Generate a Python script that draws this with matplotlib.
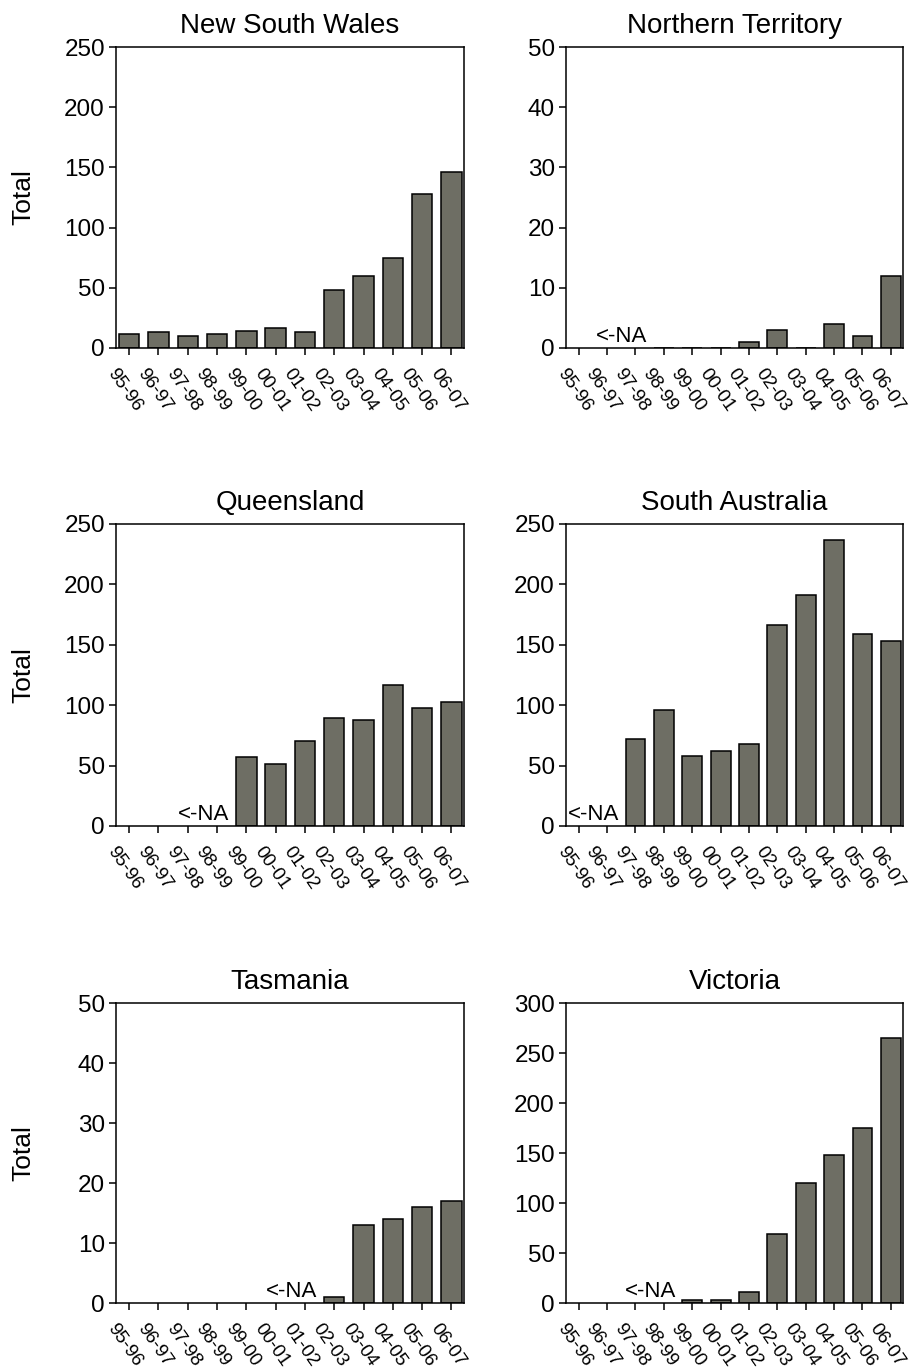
import numpy as np
import matplotlib
matplotlib.use('Agg')
import matplotlib.pyplot as plt
import matplotlib.transforms as mtransforms

plt.rcParams['font.family'] = ['Liberation Sans', 'DejaVu Sans']

years = ['95-96', '96-97', '97-98', '98-99', '99-00', '00-01',
         '01-02', '02-03', '03-04', '04-05', '05-06', '06-07']
nan = np.nan

nsw = [12, 13, 10, 12, 14, 17, 13, 48, 60, 75, 128, 146]
nt = [nan, nan, nan, 0, 0, 0, 1, 3, 0, 4, 2, 12]
qld = [nan, nan, nan, nan, 57, 51, 70, 89, 88, 117, 98, 103]
sa = [nan, nan, 72, 96, 58, 62, 68, 166, 191, 237, 159, 153]
tas = [nan, nan, nan, nan, nan, nan, nan, 1, 13, 14, 16, 17]
vic = [nan, nan, nan, nan, 3, 3, 11, 69, 120, 148, 175, 265]

panels = [
    ('New South Wales', nsw, 250, 50),
    ('Northern Territory', nt, 50, 10),
    ('Queensland', qld, 250, 50),
    ('South Australia', sa, 250, 50),
    ('Tasmania', tas, 50, 10),
    ('Victoria', vic, 300, 50),
]

W, H = 911, 1370
fig = plt.figure(figsize=(W / 100, H / 100), dpi=100)

col_x = [(116, 464), (566, 903)]
row_y = [(47, 348), (524, 826), (1003, 1303)]

bar_color = '#6e6e64'
x = np.arange(len(years))

for i, (name, vals, ymax, step) in enumerate(panels):
    r, c = divmod(i, 2)
    x0, x1 = col_x[c]
    y0, y1 = row_y[r]
    ax = fig.add_axes([x0 / W, 1 - y1 / H, (x1 - x0) / W, (y1 - y0) / H])
    v = np.array(vals, dtype=float)
    ok = ~np.isnan(v)
    ax.bar(x[ok], v[ok], width=0.7, color=bar_color, edgecolor='black', linewidth=1.1)
    ax.set_xlim(-0.45, 11.43)
    ax.set_ylim(0, ymax)
    ax.set_yticks(np.arange(0, ymax + 1, step))
    ax.set_xticks(x)
    ax.set_xticklabels([])
    # rotated year labels, drawn by hand so they can sit left of the tick
    trans = ax.get_xaxis_transform() + mtransforms.ScaledTranslation(
        -11 / 100, -18 / 100, fig.dpi_scale_trans)
    for xi, lab in zip(x, years):
        ax.text(xi, 0, lab, transform=trans, rotation=-55, rotation_mode='anchor',
                ha='left', va='top', fontsize=13.5)
    ax.tick_params(axis='both', direction='out', length=5, width=1.1, color='black')
    ax.tick_params(axis='y', labelsize=17.5, pad=3)
    for s in ax.spines.values():
        s.set_linewidth(1.1)
    ax.set_title(name, fontsize=20, pad=10)
    if c == 0:
        ax.set_ylabel('Total', fontsize=19)
        ax.yaxis.set_label_coords(-0.232, 0.5)
    if (~ok).any():
        first = int(np.argmax(ok))
        ax.annotate('<-NA', xy=(first - 0.58, 0), xytext=(0, 4),
                    textcoords='offset points', ha='right', va='baseline',
                    fontsize=16)

fig.savefig('out.png', dpi=100)
